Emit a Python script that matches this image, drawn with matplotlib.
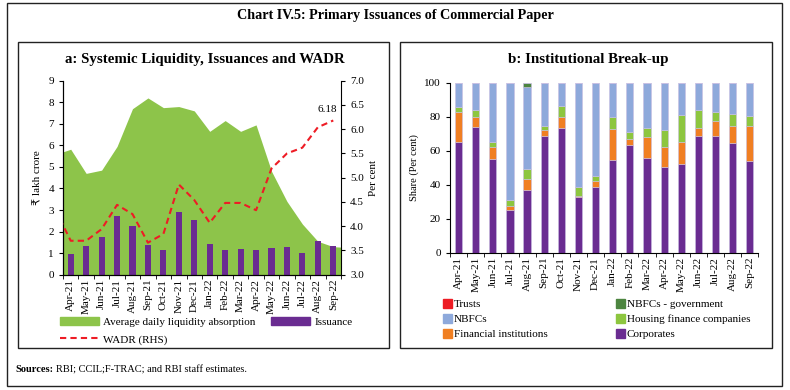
import matplotlib.pyplot as plt
import numpy as np
from matplotlib.patches import Rectangle, Patch
from matplotlib.lines import Line2D

plt.rcParams['font.family'] = ['Liberation Serif', 'DejaVu Sans']

# Data
months = ["Apr-21", "May-21", "Jun-21", "Jul-21", "Aug-21", "Sep-21", "Oct-21", "Nov-21",
          "Dec-21", "Jan-22", "Feb-22", "Mar-22", "Apr-22", "May-22", "Jun-22", "Jul-22",
          "Aug-22", "Sep-22"]
# liquidity runs Mar-21 .. Oct-22, WADR runs Mar-21 .. Sep-22 (ends clipped by the axis)
liquidity = [5.58, 5.82, 4.70, 4.85, 5.95, 7.70, 8.20, 7.75, 7.80, 7.60, 6.65, 7.15, 6.65,
             6.95, 4.80, 3.40, 2.35, 1.55, 1.30, 1.26]
wadr = [4.34, 3.70, 3.70, 3.94, 4.44, 4.25, 3.66, 3.84, 4.86, 4.54, 4.07, 4.48, 4.48, 4.33,
        5.19, 5.50, 5.62, 6.04, 6.18]
issuance = [0.96, 1.33, 1.75, 2.72, 2.26, 1.38, 1.15, 2.91, 2.54, 1.42, 1.15, 1.20, 1.15,
            1.24, 1.29, 1.00, 1.56, 1.33]

corporates = [65.0, 74.1, 55.1, 24.9, 36.9, 68.8, 73.5, 32.6, 38.8, 54.5, 63.4, 55.5, 50.6,
              52.0, 68.6, 68.6, 64.7, 54.1]
fin_inst = [18.0, 5.7, 7.3, 2.7, 6.5, 3.4, 6.1, 1.0, 3.6, 18.3, 3.7, 12.4, 11.4, 13.1, 4.9,
            8.9, 9.8, 20.4]
housing = [2.7, 4.4, 2.9, 3.4, 5.6, 2.3, 6.7, 4.9, 2.9, 6.8, 4.1, 5.6, 10.2, 15.9, 10.4, 5.3,
           7.3, 5.9]
nbfcs = [14.3, 15.8, 34.7, 69.0, 48.7, 25.5, 13.7, 61.5, 54.7, 20.4, 28.8, 26.5, 27.8, 19.0,
         16.1, 17.2, 18.2, 19.6]
nbfc_govt = [0, 0, 0, 0, 2.3, 0, 0, 0, 0, 0, 0, 0, 0, 0, 0, 0, 0, 0]
trusts = [0] * 18

GREEN = '#8DC44A'
PURPLE = '#6A2C91'
RED = '#EE1C25'

fig = plt.figure(figsize=(7.9, 3.9), dpi=100)
W, H = 790, 390


def box(x0, y0, x1, y1, lw=1.0):
    fig.add_artist(Rectangle((x0 / W, 1 - y1 / H), (x1 - x0) / W, (y1 - y0) / H,
                             transform=fig.transFigure, fill=False, edgecolor='#222222', lw=lw))


box(7, 3, 782, 386)
box(18, 42, 389, 348)
box(400, 42, 772, 348)

fig.text(0.5, 1 - 15 / H, 'Chart IV.5: Primary Issuances of Commercial Paper',
         ha='center', va='center', fontsize=10.2, fontweight='bold')
fig.text(205 / W, 1 - 59 / H, 'a: Systemic Liquidity, Issuances and WADR',
         ha='center', va='center', fontsize=10.7, fontweight='bold')
fig.text(588 / W, 1 - 59 / H, 'b: Institutional Break-up',
         ha='center', va='center', fontsize=10.8, fontweight='bold')

x = np.arange(len(months))

# ---- panel a
ax = fig.add_axes([63 / W, 1 - 274.7 / H, 278 / W, 194 / H])
ax.fill_between(np.arange(-1, len(liquidity) - 1), liquidity, color=GREEN, lw=0, zorder=1)
ax.bar(x, issuance, width=0.4, color=PURPLE, zorder=2)
ax.set_xlim(-0.5, len(months) - 0.5)
ax.set_ylim(0, 9)
ax.set_yticks(range(0, 10))
ax.set_ylabel('₹ lakh crore', fontsize=8)
ax.set_xticks(x)
ax.set_xticklabels(months, rotation=90, fontsize=8)
ax.set_xticks(np.arange(-0.5, len(months)), minor=True)
ax.tick_params(axis='x', which='major', length=0, pad=3)
ax.tick_params(axis='x', which='minor', length=3, direction='out')
ax.tick_params(axis='y', labelsize=8, length=3, direction='out')
ax.spines['top'].set_visible(False)
ax.spines['right'].set_visible(False)

ax2 = ax.twinx()
ax2.plot(np.arange(-1, len(wadr) - 1), wadr, color=RED, ls=(0, (3, 2)), lw=1.5, zorder=3)
ax2.set_ylim(3.0, 7.0)
ax2.set_yticks(np.arange(3.0, 7.01, 0.5))
ax2.set_yticklabels([f'{v:.1f}' for v in np.arange(3.0, 7.01, 0.5)])
ax2.tick_params(axis='y', labelsize=8, length=3, direction='out')
ax2.set_ylabel('Per cent', fontsize=8)
ax2.spines['top'].set_visible(False)
ax2.annotate(f'{wadr[-1]:.2f}', (len(months) - 1, wadr[-1]), xytext=(-4, 5),
             textcoords='offset points', ha='center', va='bottom', fontsize=8)

# column-wise fill: first column Average + WADR, second column Issuance
leg_a = [Patch(color=GREEN, label='Average daily liquidity absorption'),
         Line2D([], [], color=RED, ls=(0, (3, 2)), lw=1.5, label='WADR (RHS)'),
         Patch(color=PURPLE, label='Issuance')]
fig.legend(handles=leg_a, loc='upper left', bbox_to_anchor=(50 / W, 1 - 307 / H), ncol=2,
           frameon=False, fontsize=8, handlelength=3.5, handleheight=0.7,
           columnspacing=1.4, labelspacing=0.7, handletextpad=0.4)

# ---- panel b
bx = fig.add_axes([450 / W, 1 - 252.7 / H, 308.3 / W, 170 / H])
series = [("Corporates", corporates, '#6A2C91'),
          ("Financial institutions", fin_inst, '#F07F22'),
          ("Housing finance companies", housing, '#8DC63F'),
          ("NBFCs", nbfcs, '#8EA9DB'),
          ("NBFCs - government", nbfc_govt, '#4D8540'),
          ("Trusts", trusts, '#ED1C24')]
bottom = np.zeros(len(months))
handles = {}
for name, vals, col in series:
    vals = np.array(vals, dtype=float)
    bx.bar(x, vals, bottom=bottom, width=0.42, color=col, edgecolor='#C9BFE3', lw=0.4)
    bottom += vals
    handles[name] = Patch(color=col, label=name)
bx.set_xlim(-0.5, len(months) - 0.5)
bx.set_ylim(0, 100)
bx.set_yticks(range(0, 101, 20))
bx.set_ylabel('Share (Per cent)', fontsize=7.5)
bx.set_xticks(x)
bx.set_xticklabels(months, rotation=90, fontsize=8)
bx.set_xticks(np.arange(-0.5, len(months)), minor=True)
bx.tick_params(axis='x', which='major', length=0, pad=3)
bx.tick_params(axis='x', which='minor', length=3, direction='out')
bx.tick_params(axis='y', labelsize=8, length=3, direction='out')
bx.spines['top'].set_visible(False)
bx.spines['right'].set_visible(False)

order = ["Trusts", "NBFCs", "Financial institutions",
         "NBFCs - government", "Housing finance companies", "Corporates"]
leg_b = [handles[n] for n in order]
fig.legend(handles=leg_b, loc='upper left', bbox_to_anchor=(433 / W, 1 - 289 / H), ncol=2,
           frameon=False, fontsize=8, handlelength=0.8, handleheight=0.8,
           columnspacing=6.1, labelspacing=0.45, handletextpad=0.2)

# ---- sources
t = fig.text(15 / W, 1 - 370 / H, 'Sources:', fontsize=7.5, fontweight='bold', va='center')
fig.canvas.draw()
bb = t.get_window_extent()
fig.text(bb.x1 / W + 3 / W, 1 - 370 / H, 'RBI; CCIL;F-TRAC; and RBI staff estimates.',
         fontsize=7.5, va='center')

fig.savefig('out.png', dpi=100)
